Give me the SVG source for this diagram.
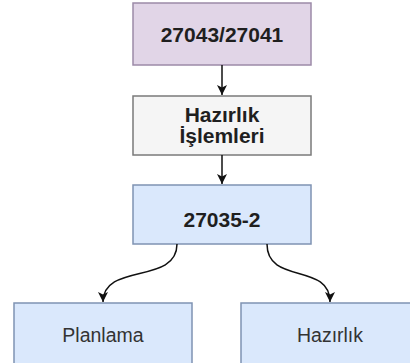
<svg xmlns="http://www.w3.org/2000/svg" width="410" height="363" viewBox="0 0 410 363">
<style>
.box{stroke-width:1.5}
.purple{fill:#e1d5e7;stroke:#9c8aa8}
.gray{fill:#f5f5f5;stroke:#7a7a7a}
.blue{fill:#dae8fc;stroke:#7f93b3}
.bold{font-family:"Liberation Sans",Arial,sans-serif;font-weight:bold;font-size:21px;fill:#1f1f1f;text-anchor:middle}
.norm{font-family:"Liberation Sans",Arial,sans-serif;font-size:19.5px;fill:#333;text-anchor:middle}
.edge{fill:none;stroke:#111;stroke-width:1.5}
</style>
<defs>
<marker id="arr" viewBox="0 0 10 10" refX="10" refY="5" markerWidth="10" markerHeight="10" markerUnits="userSpaceOnUse" orient="auto">
<path d="M0,0 L10,5 L0,10 L2.5,5 Z" fill="#111"/>
</marker>
</defs>
<rect width="410" height="363" fill="#fff"/>
<g id="n1">
<rect class="box purple" x="133" y="3" width="178" height="62"/>
<text class="bold" x="222" y="42">27043/27041</text>
</g>
<g id="n2">
<rect class="box gray" x="133" y="96" width="178" height="59"/>
<text class="bold" x="222" y="122">Hazırlık</text>
<text class="bold" x="222" y="143">İşlemleri</text>
</g>
<g id="n3">
<rect class="box blue" x="133" y="185" width="178" height="59"/>
<text class="bold" x="222" y="227">27035-2</text>
</g>
<g id="n4">
<rect class="box blue" x="14" y="303" width="178" height="70"/>
<text class="norm" x="103" y="342">Planlama</text>
</g>
<g id="n5">
<rect class="box blue" x="241" y="303" width="178" height="70"/>
<text class="norm" x="330" y="342">Hazırlık</text>
</g>
<g id="edges">
<path class="edge" d="M222,65 L222,95" marker-end="url(#arr)"/>
<path class="edge" d="M222,155 L222,184" marker-end="url(#arr)"/>
<path class="edge" d="M177,244 C177,285 103,262 103,302" marker-end="url(#arr)"/>
<path class="edge" d="M267,244 C267,285 330,262 330,302" marker-end="url(#arr)"/>
</g>
</svg>
